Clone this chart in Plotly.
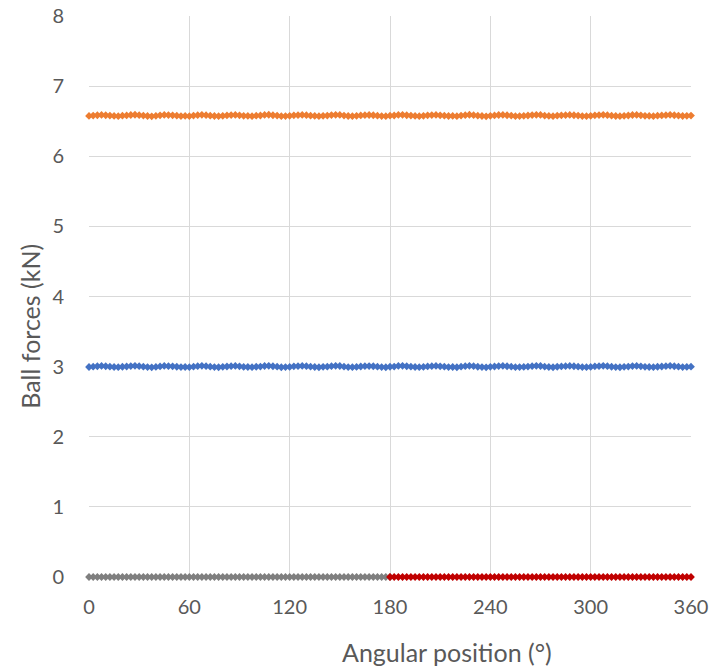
import plotly.graph_objects as go

# Angular positions of the balls (deg), sampled every 2.5 deg
angle = [i * 2.5 for i in range(145)]

# Ball forces (kN) per ball row
force_upper = [
    6.575, 6.580, 6.585, 6.590, 6.585, 6.580, 6.575, 6.572,
    6.578, 6.582, 6.588, 6.592, 6.586, 6.580, 6.574, 6.570,
    6.576, 6.583, 6.590, 6.587, 6.584, 6.578, 6.573, 6.575,
    6.572, 6.580, 6.586, 6.591, 6.586, 6.579, 6.574, 6.571,
    6.577, 6.582, 6.587, 6.590, 6.584, 6.576, 6.575, 6.572,
    6.578, 6.581, 6.589, 6.592, 6.585, 6.580, 6.571, 6.573,
    6.576, 6.584, 6.586, 6.590, 6.586, 6.579, 6.575, 6.571,
    6.577, 6.580, 6.587, 6.591, 6.589, 6.580, 6.574, 6.572,
    6.576, 6.582, 6.586, 6.588, 6.585, 6.579, 6.573, 6.571,
    6.578, 6.581, 6.590, 6.591, 6.585, 6.580, 6.575, 6.572,
    6.576, 6.583, 6.587, 6.590, 6.584, 6.579, 6.574, 6.575,
    6.571, 6.580, 6.586, 6.592, 6.586, 6.578, 6.574, 6.570,
    6.577, 6.582, 6.588, 6.590, 6.585, 6.580, 6.572, 6.573,
    6.576, 6.581, 6.587, 6.591, 6.589, 6.579, 6.575, 6.571,
    6.578, 6.583, 6.586, 6.590, 6.585, 6.580, 6.573, 6.572,
    6.576, 6.584, 6.587, 6.591, 6.586, 6.578, 6.574, 6.571,
    6.577, 6.581, 6.588, 6.590, 6.584, 6.577, 6.575, 6.572,
    6.578, 6.582, 6.586, 6.591, 6.585, 6.580, 6.574, 6.576,
    6.580,
]

force_middle = [
    2.995, 3.000, 3.005, 3.010, 3.005, 3.000, 2.995, 2.992,
    2.998, 3.002, 3.008, 3.012, 3.006, 3.000, 2.994, 2.990,
    2.996, 3.003, 3.010, 3.007, 3.004, 2.998, 2.993, 2.995,
    2.992, 3.000, 3.006, 3.011, 3.006, 2.999, 2.994, 2.991,
    2.997, 3.002, 3.007, 3.010, 3.004, 2.996, 2.995, 2.992,
    2.998, 3.001, 3.009, 3.012, 3.005, 3.000, 2.991, 2.993,
    2.996, 3.004, 3.006, 3.010, 3.006, 2.999, 2.995, 2.991,
    2.997, 3.000, 3.007, 3.011, 3.009, 3.000, 2.994, 2.992,
    2.996, 3.002, 3.006, 3.008, 3.005, 2.999, 2.993, 2.991,
    2.998, 3.001, 3.010, 3.011, 3.005, 3.000, 2.995, 2.992,
    2.996, 3.003, 3.007, 3.010, 3.004, 2.999, 2.994, 2.995,
    2.991, 3.000, 3.006, 3.012, 3.006, 2.998, 2.994, 2.990,
    2.997, 3.002, 3.008, 3.010, 3.005, 3.000, 2.992, 2.993,
    2.996, 3.001, 3.007, 3.011, 3.009, 2.999, 2.995, 2.991,
    2.998, 3.003, 3.006, 3.010, 3.005, 3.000, 2.993, 2.992,
    2.996, 3.004, 3.007, 3.011, 3.006, 2.998, 2.994, 2.991,
    2.997, 3.001, 3.008, 3.010, 3.004, 2.997, 2.995, 2.992,
    2.998, 3.002, 3.006, 3.011, 3.005, 3.000, 2.994, 2.996,
    3.000,
]

# Unloaded balls: first half and second half of the revolution
angle_first_half = angle[:73]
force_first_half = [0.0] * 73
angle_second_half = angle[72:]
force_second_half = [0.0] * 73

series = [
    (angle, force_upper, "#ED7D31"),
    (angle, force_middle, "#4472C4"),
    (angle_first_half, force_first_half, "#7F7F7F"),
    (angle_second_half, force_second_half, "#C00000"),
]

fig = go.Figure()
for xs, ys, color in series:
    fig.add_trace(go.Scatter(
        x=xs, y=ys, mode="lines+markers",
        line=dict(color=color, width=1.5),
        marker=dict(symbol="diamond", size=6, color=color),
        cliponaxis=False, showlegend=False,
    ))

font_family = "Lato, sans-serif"
tick_font = dict(family=font_family, size=20, color="#595959")
title_font = dict(family=font_family, size=25, color="#595959")

fig.update_layout(
    width=715, height=669,
    margin=dict(l=89, r=24, t=16, b=92, autoexpand=False),
    paper_bgcolor="white", plot_bgcolor="white",
    xaxis=dict(
        range=[0, 360], tickvals=[0, 60, 120, 180, 240, 300, 360],
        showgrid=True, gridcolor="#D9D9D9", gridwidth=1,
        zeroline=False, showline=False, tickfont=tick_font,
        ticklabelstandoff=16, automargin=False,
    ),
    yaxis=dict(
        range=[0, 8], tickvals=list(range(9)),
        showgrid=True, gridcolor="#D9D9D9", gridwidth=1,
        zeroline=False, showline=False, tickfont=tick_font,
        ticklabelstandoff=24, automargin=False,
    ),
    annotations=[
        dict(text="Angular position (°)", xref="paper", yref="paper",
             x=0.595, y=0, yshift=-75, xanchor="center", yanchor="middle",
             showarrow=False, font=title_font),
        dict(text="Ball forces (kN)", xref="paper", yref="paper",
             x=0, xshift=-59, y=0.446, xanchor="center", yanchor="middle",
             textangle=-90, showarrow=False, font=title_font),
    ],
)

fig.write_html("out.html")
